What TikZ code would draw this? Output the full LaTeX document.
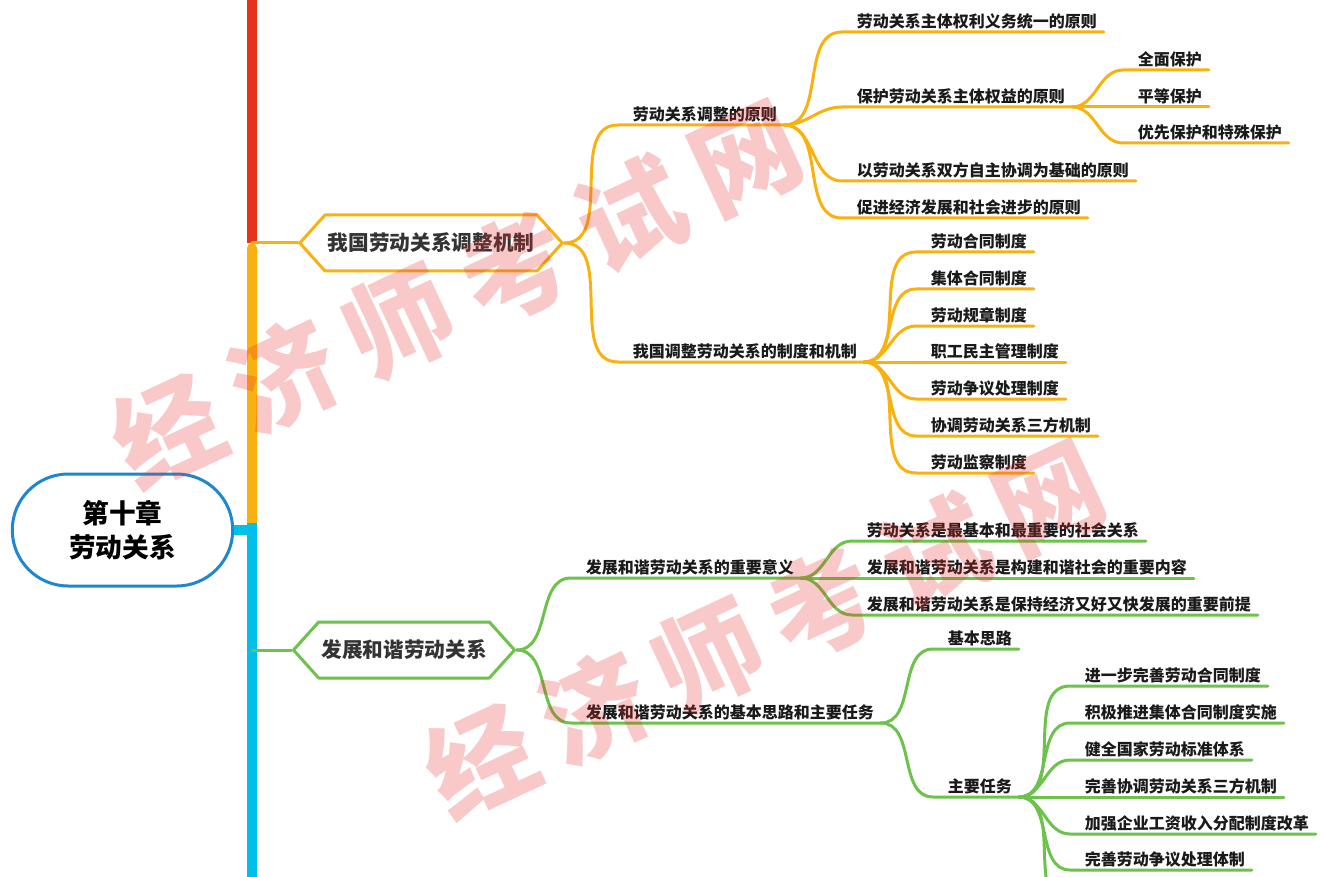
\documentclass[tikz,border=0pt]{standalone}
\usepackage{fontspec}
\setmainfont{Noto Sans CJK SC}
\usetikzlibrary{shapes.symbols,shapes.misc}
\definecolor{barred}{HTML}{E8331C}
\definecolor{brorange}{HTML}{F9B10F}
\definecolor{brcyan}{HTML}{00C0EA}
\definecolor{brgreen}{HTML}{6CC24A}
\definecolor{rootblue}{HTML}{1F86D0}
\definecolor{hextext}{HTML}{333333}
\definecolor{leaftext}{HTML}{1A1A1A}
\definecolor{wmred}{HTML}{E62E2E}
\begin{document}
\begin{tikzpicture}[x=0.75pt,y=-0.75pt,line join=round,line cap=round]
			\tikzset{leaf/.style={font=\bfseries\fontsize{12}{14}\selectfont,text=leaftext,inner xsep=5pt,inner ysep=2pt,anchor=south west},
				hexa/.style={signal,signal to=west and east,signal pointer angle=96,draw,line width=2.25pt,fill=white,
					font=\bfseries\fontsize{15.5}{18}\selectfont,text=hextext,inner xsep=2pt,minimum height=42pt},
				link/.style={line width=2.25pt},
				wmark/.style={font=\bfseries\fontsize{80}{80}\selectfont,text=wmred,text opacity=0.26,rotate=25}}
			\useasboundingbox (0,0) rectangle (1324,877);
			\clip (0,0) rectangle (1324,877);
			% trunk
			\fill[barred] (247,0) rectangle (257,243);
			\fill[brorange,rounded corners=4pt] (247,243) rectangle (257,530);
			\fill[brcyan] (247,523) rectangle (257,877);
			\coordinate (barO) at (252,243);
			\coordinate (barG) at (252,650);
			\coordinate (barC) at (252,530);
			% root
			\node[rounded rectangle,draw=rootblue,fill=white,line width=2.25pt,minimum width=172pt,minimum height=84pt,
				align=center,font=\bfseries\fontsize{20}{25.5}\selectfont] (root) at (122.5,530) {第十章\\劳动关系};
			\draw[brcyan,line width=7.5pt,line cap=butt] (root.east) -- (barC);
			% first branch
			\node[hexa,draw=brorange] (mech) at (431,243) {我国劳动关系调整机制};
			\draw[link,brorange] (barO) -- (mech.west);
			\node[leaf] (prin) at (626,125) {劳动关系调整的原则};
			\node[leaf] (sys) at (626,362) {我国调整劳动关系的制度和机制};
			\foreach \n in {prin,sys}
			\draw[link,brorange] (mech.east) to[out=0,in=180] ([xshift=-6pt]\n.south west) -- (\n.south east);
			\foreach \n/\y/\t in {p1/32/劳动关系主体权利义务统一的原则,p2/107/保护劳动关系主体权益的原则,
				p3/181/以劳动关系双方自主协调为基础的原则,p4/218/促进经济发展和社会进步的原则}{
				\node[leaf] (\n) at (850,\y) {\t};
				\draw[link,brorange] (prin.south east) to[out=0,in=180] ([xshift=-6pt]\n.south west) -- (\n.south east);
			}
			\foreach \n/\y/\t in {q1/70/全面保护,q2/107/平等保护,q3/143/优先保护和特殊保护}{
				\node[leaf] (\n) at (1131,\y) {\t};
				\draw[link,brorange] (p2.south east) to[out=0,in=180] ([xshift=-6pt]\n.south west) -- (\n.south east);
			}
			\foreach \n/\y/\t in {s1/252/劳动合同制度,s2/289/集体合同制度,s3/326/劳动规章制度,s4/362/职工民主管理制度,
				s5/399/劳动争议处理制度,s6/436/协调劳动关系三方机制,s7/473/劳动监察制度}{
				\node[leaf] (\n) at (924,\y) {\t};
				\draw[link,brorange] (sys.south east) to[out=0,in=180] ([xshift=-6pt]\n.south west) -- (\n.south east);
			}
			% second branch
			\node[hexa,draw=brgreen] (harm) at (404,650) {发展和谐劳动关系};
			\draw[link,brgreen] (barG) -- (harm.west);
			\node[leaf] (mean) at (579,578) {发展和谐劳动关系的重要意义};
			\node[leaf] (task) at (579,723) {发展和谐劳动关系的基本思路和主要任务};
			\foreach \n in {mean,task}
			\draw[link,brgreen] (harm.east) to[out=0,in=180] ([xshift=-6pt]\n.south west) -- (\n.south east);
			\foreach \n/\y/\t in {m1/541/劳动关系是最基本和最重要的社会关系,m2/578/发展和谐劳动关系是构建和谐社会的重要内容,
				m3/615/发展和谐劳动关系是保持经济又好又快发展的重要前提}{
				\node[leaf] (\n) at (860,\y) {\t};
				\draw[link,brgreen] (mean.south east) to[out=0,in=180] ([xshift=-6pt]\n.south west) -- (\n.south east);
			}
			\node[leaf] (idea) at (941,649) {基本思路};
			\node[leaf] (duty) at (941,797) {主要任务};
			\foreach \n in {idea,duty}
			\draw[link,brgreen] (task.south east) to[out=0,in=180] ([xshift=-6pt]\n.south west) -- (\n.south east);
			\foreach \n/\y/\t in {d1/686/进一步完善劳动合同制度,d2/723/积极推进集体合同制度实施,d3/760/健全国家劳动标准体系,
				d4/797/完善协调劳动关系三方机制,d5/834/加强企业工资收入分配制度改革,d6/870/完善劳动争议处理体制}{
				\node[leaf] (\n) at (1078,\y) {\t};
				\draw[link,brgreen] (duty.south east) to[out=0,in=180] ([xshift=-6pt]\n.south west) -- (\n.south east);
			}
			\coordinate (d7) at (1078,907);
			\draw[link,brgreen] (duty.south east) to[out=0,in=180] ([xshift=-6pt]d7) -- ++(120,0);
			% watermark
			\foreach \c [count=\i from 0] in {经,济,师,考,试,网}{
				\node[wmark] (wa\i) at ({167+\i*116},{430-\i*54}) {\c};
				\node[wmark] (wb\i) at ({480+\i*114},{760-\i*52}) {\c};
			}
		\end{tikzpicture}
\end{document}
